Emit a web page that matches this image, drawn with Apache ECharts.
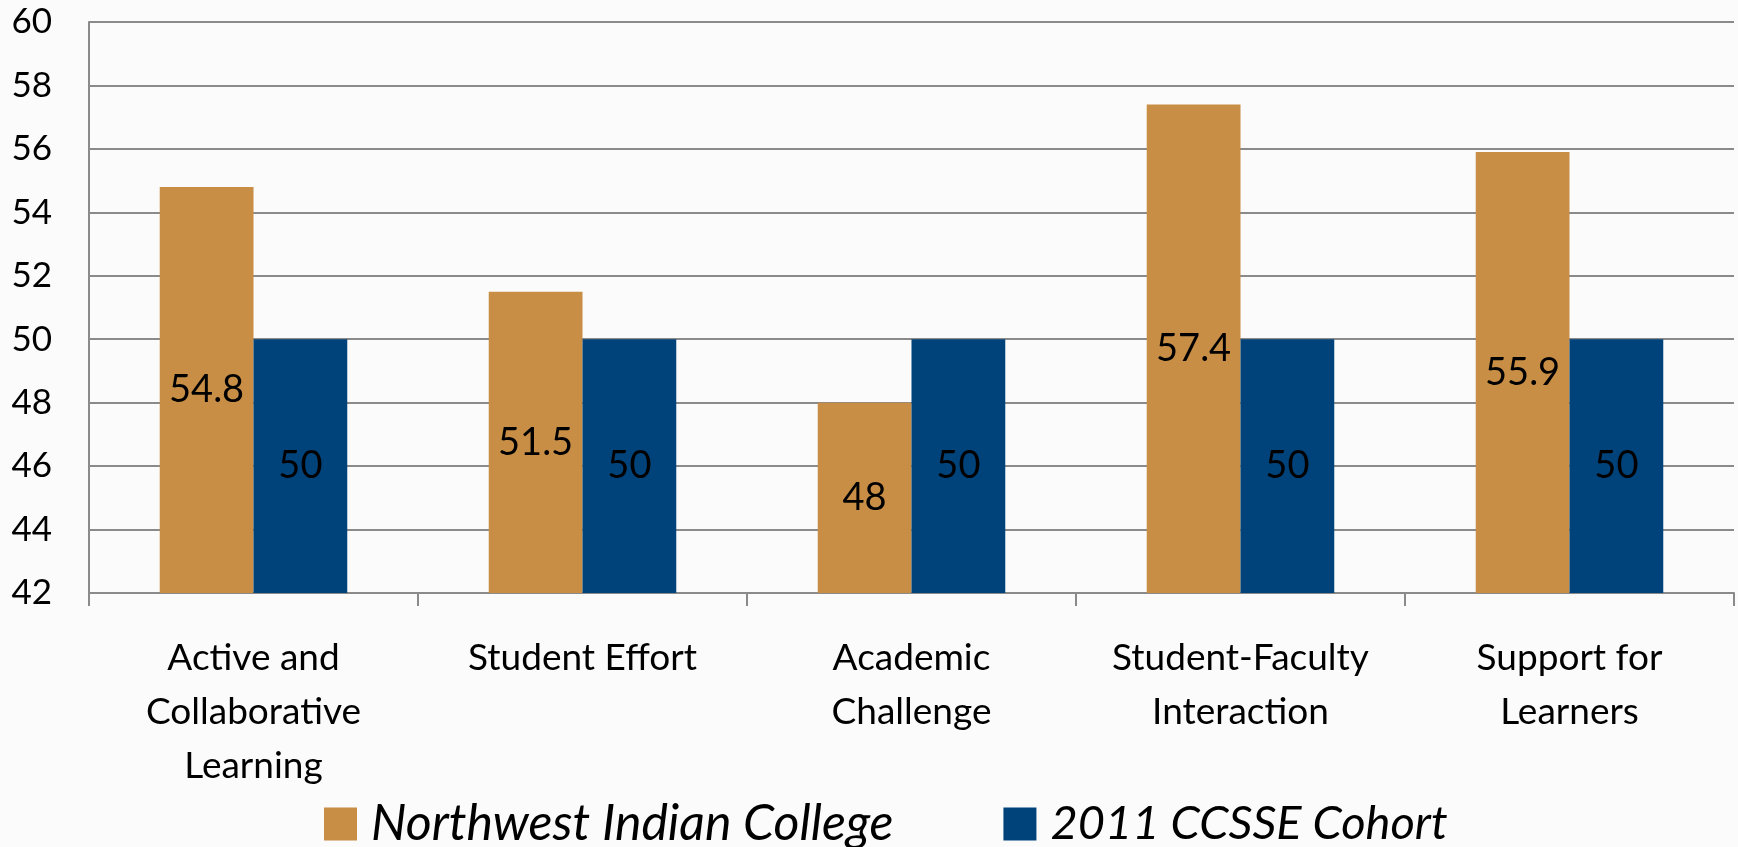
<!DOCTYPE html>
<html>
<head>
<meta charset="utf-8">
<script src="https://cdn.jsdelivr.net/npm/echarts@6/dist/echarts.min.js"></script>
<style>
html,body{margin:0;padding:0;background:#fbfbfb;}
#chart{width:1738px;height:847px;}
</style>
</head>
<body>
<div id="chart"></div>
<script>
const categories = [
  "Active and\nCollaborative\nLearning",
  "Student Effort",
  "Academic\nChallenge",
  "Student-Faculty\nInteraction",
  "Support for\nLearners"
];
const seriesNames = ["Northwest Indian College", "2011 CCSSE Cohort"];
const nwicValues = [54.8, 51.5, 48, 57.4, 55.9];
const cohortValues = [50, 50, 50, 50, 50];
const yTicks = { min: 42, max: 60, interval: 2 };

const FONT = "Lato";
const chart = echarts.init(document.getElementById("chart"), null, { renderer: "canvas" });
chart.setOption({
  backgroundColor: "#fbfbfb",
  animation: false,
  textStyle: { fontFamily: FONT, color: "#000" },
  grid: { left: 89, right: 4, top: 22, bottom: 254, containLabel: false },
  legend: {
    left: 319,
    top: 794,
    itemWidth: 33,
    itemHeight: 33,
    itemGap: 110,
    icon: "rect",
    textStyle: { fontFamily: FONT, fontStyle: "italic", fontSize: 50, color: "#000", padding: [0, 0, 0, 9] },
    data: [
      { name: seriesNames[0] },
      { name: seriesNames[1], textStyle: { fontSize: 47 } }
    ]
  },
  xAxis: {
    type: "category",
    data: categories,
    boundaryGap: true,
    axisLine: { show: true, lineStyle: { color: "#8a8a8a", width: 2 } },
    axisTick: { show: true, length: 13, lineStyle: { color: "#8a8a8a", width: 2 } },
    axisLabel: { fontFamily: FONT, fontSize: 37, color: "#000", lineHeight: 54, margin: 38, interval: 0 }
  },
  yAxis: {
    type: "value",
    min: yTicks.min,
    max: yTicks.max,
    interval: yTicks.interval,
    axisLine: { show: true, lineStyle: { color: "#8a8a8a", width: 2 } },
    axisTick: { show: false },
    splitLine: { show: true, lineStyle: { color: "#8a8a8a", width: 2 } },
    axisLabel: { fontFamily: FONT, fontSize: 35, color: "#000", margin: 37 }
  },
  series: [
    {
      name: seriesNames[0],
      type: "bar",
      data: nwicValues,
      barGap: "0%",
      barCategoryGap: "43%",
      itemStyle: { color: "#C88E45" },
      label: { show: true, position: "inside", fontFamily: FONT, fontSize: 38, color: "#000" }
    },
    {
      name: seriesNames[1],
      type: "bar",
      data: cohortValues,
      barGap: "0%",
      barCategoryGap: "43%",
      itemStyle: { color: "#00437A" },
      label: { show: true, position: "inside", fontFamily: FONT, fontSize: 38, color: "#000" }
    }
  ]
});
</script>
</body>
</html>
